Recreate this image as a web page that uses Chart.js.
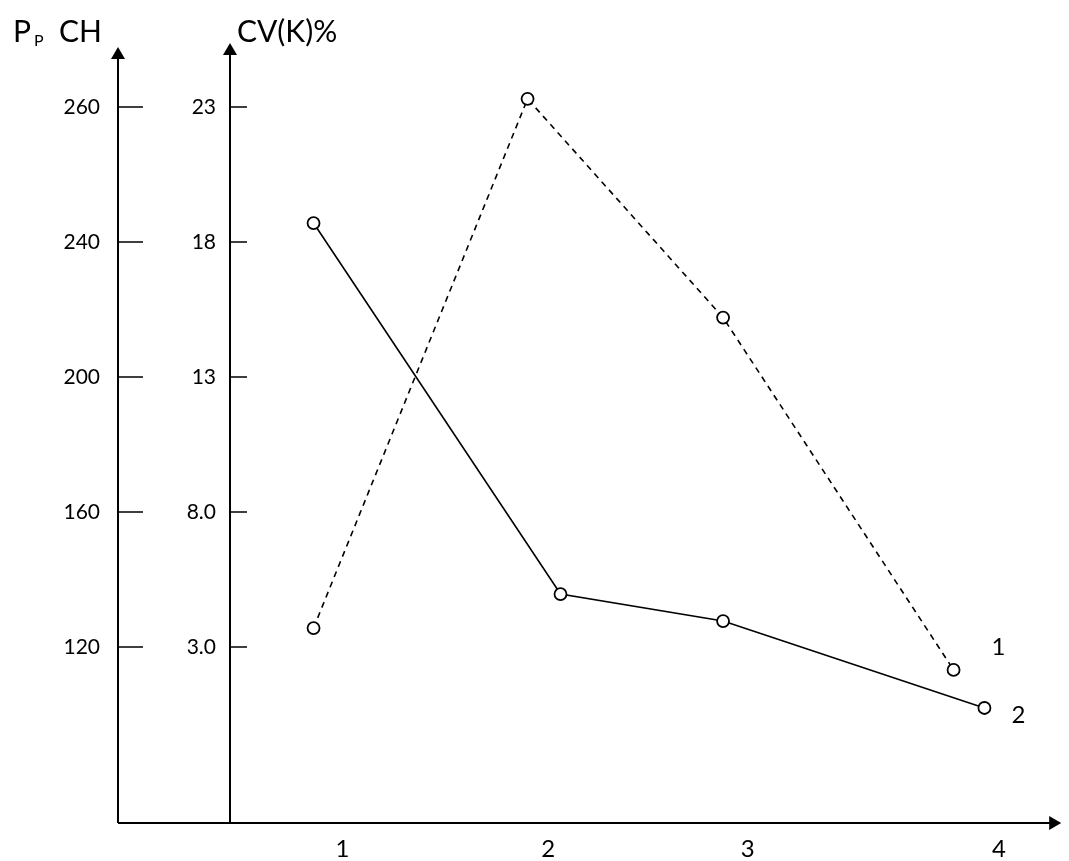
<!DOCTYPE html>
<html>
<head>
<meta charset="utf-8">
<script src="https://cdn.jsdelivr.net/npm/chart.js@4.4.0/dist/chart.umd.min.js"></script>
<style>
    html, body { margin: 0; padding: 0; background: #fff; overflow: hidden; }
    #wrap { width: 1069px; height: 861px; position: relative; }
</style>
</head>
<body>
<div id="wrap"><canvas id="chart"></canvas></div>
<script>
// Valores
const xTickValues = [1, 2, 2.97, 4.19];
const xTickLabels = ['1', '2', '3', '4'];
const cvTickValues = [23, 18, 13, 8, 3];
const cvTickLabels = ['23', '18', '13', '8.0', '3.0'];
const ppTickLabels = ['260', '240', '200', '160', '120'];

// Serie 1 (discontinua) y serie 2 (continua), en unidades del eje CV(K)%
const series1X = [0.86, 1.90, 2.85, 3.97];
const series1Y = [3.7, 23.3, 15.2, 2.15];
const series2X = [0.86, 2.06, 2.85, 4.12];
const series2Y = [18.7, 4.96, 3.96, 0.74];
const seriesNames = ['1', '2'];

const xMin = 0.454, xMax = 4.493;
const yMin = -3.52, yMax = 25.22;

const FONT = 'Lato, "Open Sans", sans-serif';

function toPoints(xs, ys) {
    return xs.map((x, i) => ({ x: x, y: ys[i] }));
}

// Dibuja los ejes con flechas, las marcas y los títulos
const axesPlugin = {
    id: 'axesPlugin',
    afterDraw(chart) {
        const ctx = chart.ctx;
        const area = chart.chartArea;
        const pp = chart.scales.pp;
        const cv = chart.scales.cv;
        const xPP = pp.right;
        const xCV = cv.right;
        const yBase = area.bottom;

        ctx.save();
        ctx.strokeStyle = '#000';
        ctx.fillStyle = '#000';
        ctx.lineWidth = 2;

        // eje x
        ctx.beginPath();
        ctx.moveTo(xPP, yBase);
        ctx.lineTo(area.right - 10, yBase);
        ctx.stroke();
        ctx.beginPath();
        ctx.moveTo(area.right, yBase);
        ctx.lineTo(area.right - 12, yBase - 7);
        ctx.lineTo(area.right - 12, yBase + 7);
        ctx.closePath();
        ctx.fill();

        // ejes verticales
        [[xPP, area.top], [xCV, area.top - 4]].forEach(([x, tip]) => {
            ctx.beginPath();
            ctx.moveTo(x, yBase);
            ctx.lineTo(x, tip + 10);
            ctx.stroke();
            ctx.beginPath();
            ctx.moveTo(x, tip);
            ctx.lineTo(x - 7, tip + 12);
            ctx.lineTo(x + 7, tip + 12);
            ctx.closePath();
            ctx.fill();
        });

        // marcas
        ctx.lineWidth = 1.6;
        cvTickValues.forEach(v => {
            const y = cv.getPixelForValue(v);
            ctx.beginPath();
            ctx.moveTo(xPP, y);
            ctx.lineTo(xPP + 25, y);
            ctx.moveTo(xCV, y);
            ctx.lineTo(xCV + 17, y);
            ctx.stroke();
        });

        // títulos de los ejes
        ctx.textAlign = 'left';
        ctx.textBaseline = 'alphabetic';
        ctx.font = '30px ' + FONT;
        ctx.fillText('P', 13, 42);
        ctx.fillText('CH', 59, 42);
        ctx.fillText('CV(K)%', 237, 42);
        ctx.font = '16px ' + FONT;
        ctx.fillText('P', 34, 46);

        // nombres de las series junto al último punto
        const offsets = [[45, -23], [34, 7]];
        ctx.font = '24px ' + FONT;
        ctx.textAlign = 'center';
        ctx.textBaseline = 'middle';
        seriesNames.forEach((name, i) => {
            const meta = chart.getDatasetMeta(i);
            const last = meta.data[meta.data.length - 1];
            ctx.fillText(name, last.x + offsets[i][0], last.y + offsets[i][1]);
        });
        ctx.restore();
    }
};

const ctx = document.getElementById('chart');
new Chart(ctx, {
    type: 'line',
    data: {
        datasets: [{
            label: seriesNames[0],
            data: toPoints(series1X, series1Y),
            borderColor: '#000',
            borderWidth: 1.6,
            borderDash: [6, 5],
            pointRadius: 6,
            pointBorderWidth: 1.8,
            pointBackgroundColor: '#fff',
            pointBorderColor: '#000',
            tension: 0,
            xAxisID: 'x',
            yAxisID: 'cv'
        }, {
            label: seriesNames[1],
            data: toPoints(series2X, series2Y),
            borderColor: '#000',
            borderWidth: 1.6,
            pointRadius: 6,
            pointBorderWidth: 1.8,
            pointBackgroundColor: '#fff',
            pointBorderColor: '#000',
            tension: 0,
            xAxisID: 'x',
            yAxisID: 'cv'
        }]
    },
    options: {
        responsive: true,
        maintainAspectRatio: false,
        animation: false,
        layout: { padding: { top: 47, right: 3, bottom: 0, left: 0 } },
        plugins: {
            legend: { display: false },
            tooltip: { enabled: false }
        },
        scales: {
            x: {
                type: 'linear',
                min: xMin,
                max: xMax,
                grid: { display: false, drawTicks: false },
                border: { display: false },
                afterBuildTicks: s => { s.ticks = xTickValues.map(v => ({ value: v })); },
                afterFit: s => { s.height = 38; },
                ticks: {
                    autoSkip: false,
                    maxRotation: 0,
                    padding: 12,
                    color: '#000',
                    font: { family: FONT, size: 24 },
                    callback: (v, i) => xTickLabels[i]
                }
            },
            cv: {
                type: 'linear',
                position: 'left',
                weight: 1,
                min: yMin,
                max: yMax,
                grid: { display: false, drawTicks: false },
                border: { display: false },
                afterBuildTicks: s => { s.ticks = cvTickValues.map(v => ({ value: v })); },
                afterFit: s => { s.width = 112; },
                ticks: {
                    autoSkip: false,
                    padding: 14,
                    color: '#000',
                    font: { family: FONT, size: 21 },
                    callback: (v, i) => cvTickLabels[i]
                }
            },
            pp: {
                type: 'linear',
                position: 'left',
                weight: 2,
                min: yMin,
                max: yMax,
                grid: { display: false, drawTicks: false },
                border: { display: false },
                afterBuildTicks: s => { s.ticks = cvTickValues.map(v => ({ value: v })); },
                afterFit: s => { s.width = 118; },
                ticks: {
                    autoSkip: false,
                    padding: 18,
                    color: '#000',
                    font: { family: FONT, size: 21 },
                    callback: (v, i) => ppTickLabels[i]
                }
            }
        }
    },
    plugins: [axesPlugin]
});
</script>
</body>
</html>
